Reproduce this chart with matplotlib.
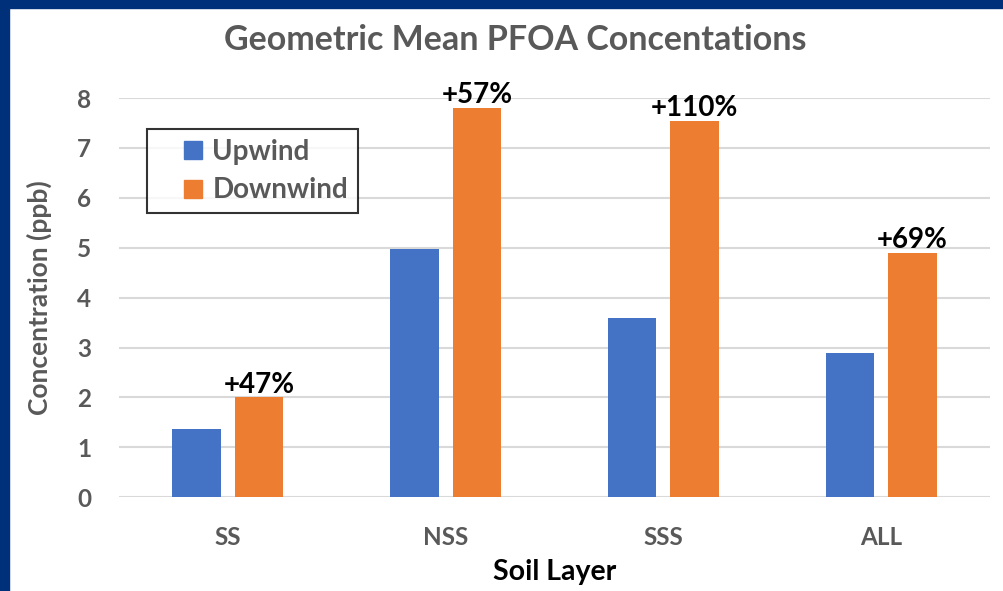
import numpy as np
import matplotlib
matplotlib.use("Agg")
import matplotlib.pyplot as plt
from matplotlib.patches import Rectangle
from matplotlib.lines import Line2D

# ---------------- DATA ----------------
layers = ["SS", "NSS", "SSS", "ALL"]
upwind = [1.36, 4.98, 3.59, 2.90]
downwind = [2.00, 7.80, 7.54, 4.90]
pct_labels = ["+47%", "+57%", "+110%", "+69%"]
yticks = [0, 1, 2, 3, 4, 5, 6, 7, 8]
# --------------------------------------

plt.rcParams["font.family"] = ["Lato", "DejaVu Sans"]
plt.rcParams["font.weight"] = "bold"

grey = "#595959"
blue = "#4472C4"
orange = "#ED7D31"
navy = "#00307A"

fig = plt.figure(figsize=(10.04, 5.91), dpi=100)
W, H = 1004, 591

# frame strips (top / left)
fig.patches.append(Rectangle((0, 1 - 8 / H), 1, 8 / H, transform=fig.transFigure,
                             color=navy, zorder=0))
fig.patches.append(Rectangle((0, 0), 9 / W, 1, transform=fig.transFigure,
                             color=navy, zorder=0))

ax = fig.add_axes([119 / W, (H - 497.3) / H, (990 - 119) / W, (497.3 - 98) / H])

x = np.arange(len(layers))
bw = 0.223
off = 0.1435
ax.bar(x - off, upwind, bw, color=blue, label="Upwind", zorder=3)
ax.bar(x + off, downwind, bw, color=orange, label="Downwind", zorder=3)

for xi, v, lab in zip(x, downwind, pct_labels):
    ax.annotate(lab, (xi + off, v), xytext=(0, 3.5), textcoords="offset points",
                ha="center", va="baseline", fontsize=20, fontweight="bold",
                color="black", zorder=4)

ax.set_xlim(-0.5, len(layers) - 0.5)
ax.set_ylim(0, 8)
ax.set_yticks(yticks)
ax.set_xticks(x)
ax.set_xticklabels(layers)
ax.grid(axis="y", color="#D9D9D9", linewidth=1.5, zorder=0)
for s in ax.spines.values():
    s.set_visible(False)
ax.tick_params(axis="both", length=0, labelsize=17.5, labelcolor=grey)
ax.tick_params(axis="y", pad=20)
ax.tick_params(axis="x", pad=21)

ax.set_ylabel("Concentration (ppb)", fontsize=19, color=grey, fontweight="bold", labelpad=18)
ax.set_xlabel("Soil Layer", fontsize=20.5, color="black", fontweight="bold", labelpad=7)
fig.text(515 / W, 1 - 40 / H, "Geometric Mean PFOA Concentations", ha="center",
         va="center", fontsize=24.5, fontweight="bold", color=grey)

handles = [Line2D([], [], ls="none", marker="s", markersize=13, color=blue),
           Line2D([], [], ls="none", marker="s", markersize=13, color=orange)]
leg = ax.legend(handles, ["Upwind", "Downwind"], loc="upper left",
                bbox_to_anchor=(28 / 871, 1 - 31 / 399.3),
                fontsize=20, frameon=True, fancybox=False, handlelength=2.6,
                borderpad=0.35, labelspacing=0.45, handletextpad=-0.6,
                borderaxespad=0)
leg.get_frame().set_edgecolor("black")
leg.get_frame().set_linewidth(1.5)
for t in leg.get_texts():
    t.set_color(grey)

fig.savefig("out.png", dpi=100)
